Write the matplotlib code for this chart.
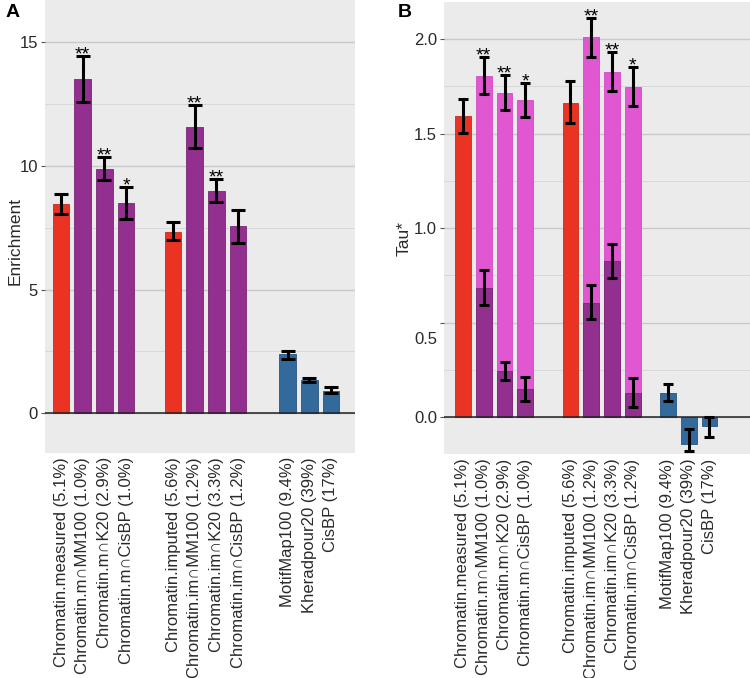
import numpy as np
import matplotlib.pyplot as plt

plt.rcParams['font.family'] = ['Liberation Sans', 'DejaVu Sans']

# bar labels (same for both panels)
labels = ['Chromatin.measured (5.1%)', 'Chromatin.m∩MM100 (1.0%)', 'Chromatin.m∩K20 (2.9%)',
          'Chromatin.m∩CisBP (1.0%)',
          'Chromatin.imputed (5.6%)', 'Chromatin.im∩MM100 (1.2%)', 'Chromatin.im∩K20 (3.3%)',
          'Chromatin.im∩CisBP (1.2%)',
          'MotifMap100 (9.4%)', 'Kheradpour20 (39%)', 'CisBP (17%)']
kind = ['chrom', 'inter', 'inter', 'inter', 'chrom', 'inter', 'inter', 'inter', 'motif', 'motif', 'motif']
group = [0, 0, 0, 0, 1, 1, 1, 1, 2, 2, 2]

# panel A: enrichment
enrich = [8.44, 13.50, 9.88, 8.48, 7.33, 11.58, 8.99, 7.56, 2.38, 1.35, 0.92]
enrich_lo = [8.04, 12.59, 9.42, 7.84, 6.99, 10.74, 8.53, 6.88, 2.21, 1.27, 0.84]
enrich_hi = [8.85, 14.44, 10.36, 9.14, 7.71, 12.45, 9.46, 8.23, 2.51, 1.43, 1.05]
enrich_star = ['', '**', '**', '*', '', '**', '**', '', '', '', '']

# panel B: tau*
tau = [1.594, 1.804, 1.717, 1.680, 1.663, 2.009, 1.825, 1.748, 0.130, -0.143, -0.044]
tau_lo = [1.504, 1.707, 1.626, 1.590, 1.556, 1.903, 1.723, 1.644, 0.088, -0.177, -0.103]
tau_hi = [1.684, 1.905, 1.811, 1.770, 1.776, 2.114, 1.931, 1.852, 0.176, -0.065, 0.003]
tau_star = ['', '**', '**', '*', '', '**', '**', '*', '', '', '']

# panel B: darker bars drawn inside the pink ones
nan = np.nan
tau_in = [nan, 0.686, 0.247, 0.150, nan, 0.606, 0.825, 0.130, nan, nan, nan]
tau_in_lo = [nan, 0.593, 0.197, 0.088, nan, 0.518, 0.737, 0.056, nan, nan, nan]
tau_in_hi = [nan, 0.781, 0.291, 0.215, nan, 0.698, 0.917, 0.206, nan, nan, nan]

RED = '#EA3323'
PURPLE = '#93308F'
PINK = '#E157D1'
BLUE = '#326A9B'
BG = '#EBEBEB'
TXT = '#2A2A2A'


def positions(starts):
    pos = []
    seen = {}
    for g in group:
        k = seen.get(g, 0)
        pos.append(starts[g] + k)
        seen[g] = k + 1
    return np.array(pos)


def style_axes(ax, ylim, major, minor, xlim):
    ax.set_facecolor(BG)
    for s in ax.spines.values():
        s.set_visible(False)
    ax.set_ylim(*ylim)
    ax.set_xlim(*xlim)
    ax.set_yticks(major)
    ax.set_yticks(minor, minor=True)
    ax.grid(axis='y', which='major', color='#C9C9C9', linewidth=1.0)
    ax.grid(axis='y', which='minor', color='#D8D8D8', linewidth=0.7)
    ax.set_axisbelow(True)
    ax.axhline(0, color='#222222', linewidth=1.1, zorder=4)
    ax.tick_params(axis='y', which='major', length=3, width=0.8, color='#555555',
                   labelsize=12, labelcolor=TXT, pad=2)
    ax.tick_params(axis='y', which='minor', length=0)
    ax.tick_params(axis='x', length=0, labelsize=12, labelcolor=TXT, pad=3)


def add_stars(ax, x, hi, stars):
    for xi, h, s in zip(x, hi, stars):
        if s:
            ax.annotate(s, (xi, h), xytext=(0, -2.5), textcoords='offset points',
                        ha='center', va='baseline', fontsize=14, color='black', zorder=6)


fig = plt.figure(figsize=(7.5, 6.78), dpi=100)

# ---------- panel A ----------
axA = fig.add_axes([0.060, 0.332, 0.413, 0.668])
xa = positions([0, 5.17, 10.45])
colA = [RED if k == 'chrom' else PURPLE if k == 'inter' else BLUE for k in kind]
edgeA = ['#C92A1D' if k == 'chrom' else '#7A2677' if k == 'inter' else '#28557D' for k in kind]
axA.bar(xa, enrich, width=0.77, color=colA, edgecolor=edgeA, linewidth=0.6, zorder=3)
errA = [np.array(enrich) - np.array(enrich_lo), np.array(enrich_hi) - np.array(enrich)]
axA.errorbar(xa, enrich, yerr=errA, fmt='none', ecolor='black', elinewidth=2.2,
             capsize=5.2, capthick=2.2, zorder=5)
add_stars(axA, xa, enrich_hi, enrich_star)
style_axes(axA, (-1.6, 16.7), [0, 5, 10, 15], [2.5, 7.5, 12.5], (-0.74, 13.55))
axA.set_xticks(xa)
axA.set_xticklabels(labels, rotation=90, ha='center', va='top')
axA.set_ylabel('Enrichment', fontsize=12.5, color=TXT)
axA.yaxis.set_label_coords(-0.073, 0.468)
fig.text(0.008, 0.982, 'A', fontsize=14, fontweight='bold', va='center')

# ---------- panel B ----------
axB = fig.add_axes([0.592, 0.330, 0.408, 0.667])
xb = positions([0, 5.17, 9.85])
colB = [RED if k == 'chrom' else PINK if k == 'inter' else BLUE for k in kind]
edgeB = ['#C92A1D' if k == 'chrom' else '#D04CC0' if k == 'inter' else '#28557D' for k in kind]
axB.bar(xb, tau, width=0.76, color=colB, edgecolor=edgeB, linewidth=0.6, zorder=3)
errB = [np.array(tau) - np.array(tau_lo), np.array(tau_hi) - np.array(tau)]
axB.errorbar(xb, tau, yerr=errB, fmt='none', ecolor='black', elinewidth=2.2,
             capsize=3.4, capthick=2.2, zorder=5)

tin = np.array(tau_in)
mask = ~np.isnan(tin)
axB.bar(xb[mask], tin[mask], width=0.76, color=PURPLE, edgecolor='#7A2677',
        linewidth=0.6, zorder=3.5)
errIn = [tin[mask] - np.array(tau_in_lo)[mask], np.array(tau_in_hi)[mask] - tin[mask]]
axB.errorbar(xb[mask], tin[mask], yerr=errIn, fmt='none', ecolor='black', elinewidth=2.2,
             capsize=3.4, capthick=2.2, zorder=5)
add_stars(axB, xb, tau_hi, tau_star)

style_axes(axB, (-0.196, 2.196), [0, 0.5, 1.0, 1.5, 2.0], [0.25, 0.75, 1.25, 1.75], (-0.91, 13.8))
axB.set_yticklabels(['0.0', '', '1.0', '1.5', '2.0'])
# the 0.5 label sits a bit below its tick in the original
axB.annotate('0.5', (0, 0.41), xycoords=('axes fraction', 'data'), xytext=(-5, 0),
             textcoords='offset points', ha='right', va='center', fontsize=12, color=TXT)
axB.set_xticks(xb)
axB.set_xticklabels(labels, rotation=90, ha='center', va='top')
axB.set_ylabel('Tau*', fontsize=12.5, color=TXT)
axB.yaxis.set_label_coords(-0.106, 0.478)
fig.text(0.530, 0.982, 'B', fontsize=14, fontweight='bold', va='center')

fig.savefig('out.png', dpi=100, facecolor='white')
